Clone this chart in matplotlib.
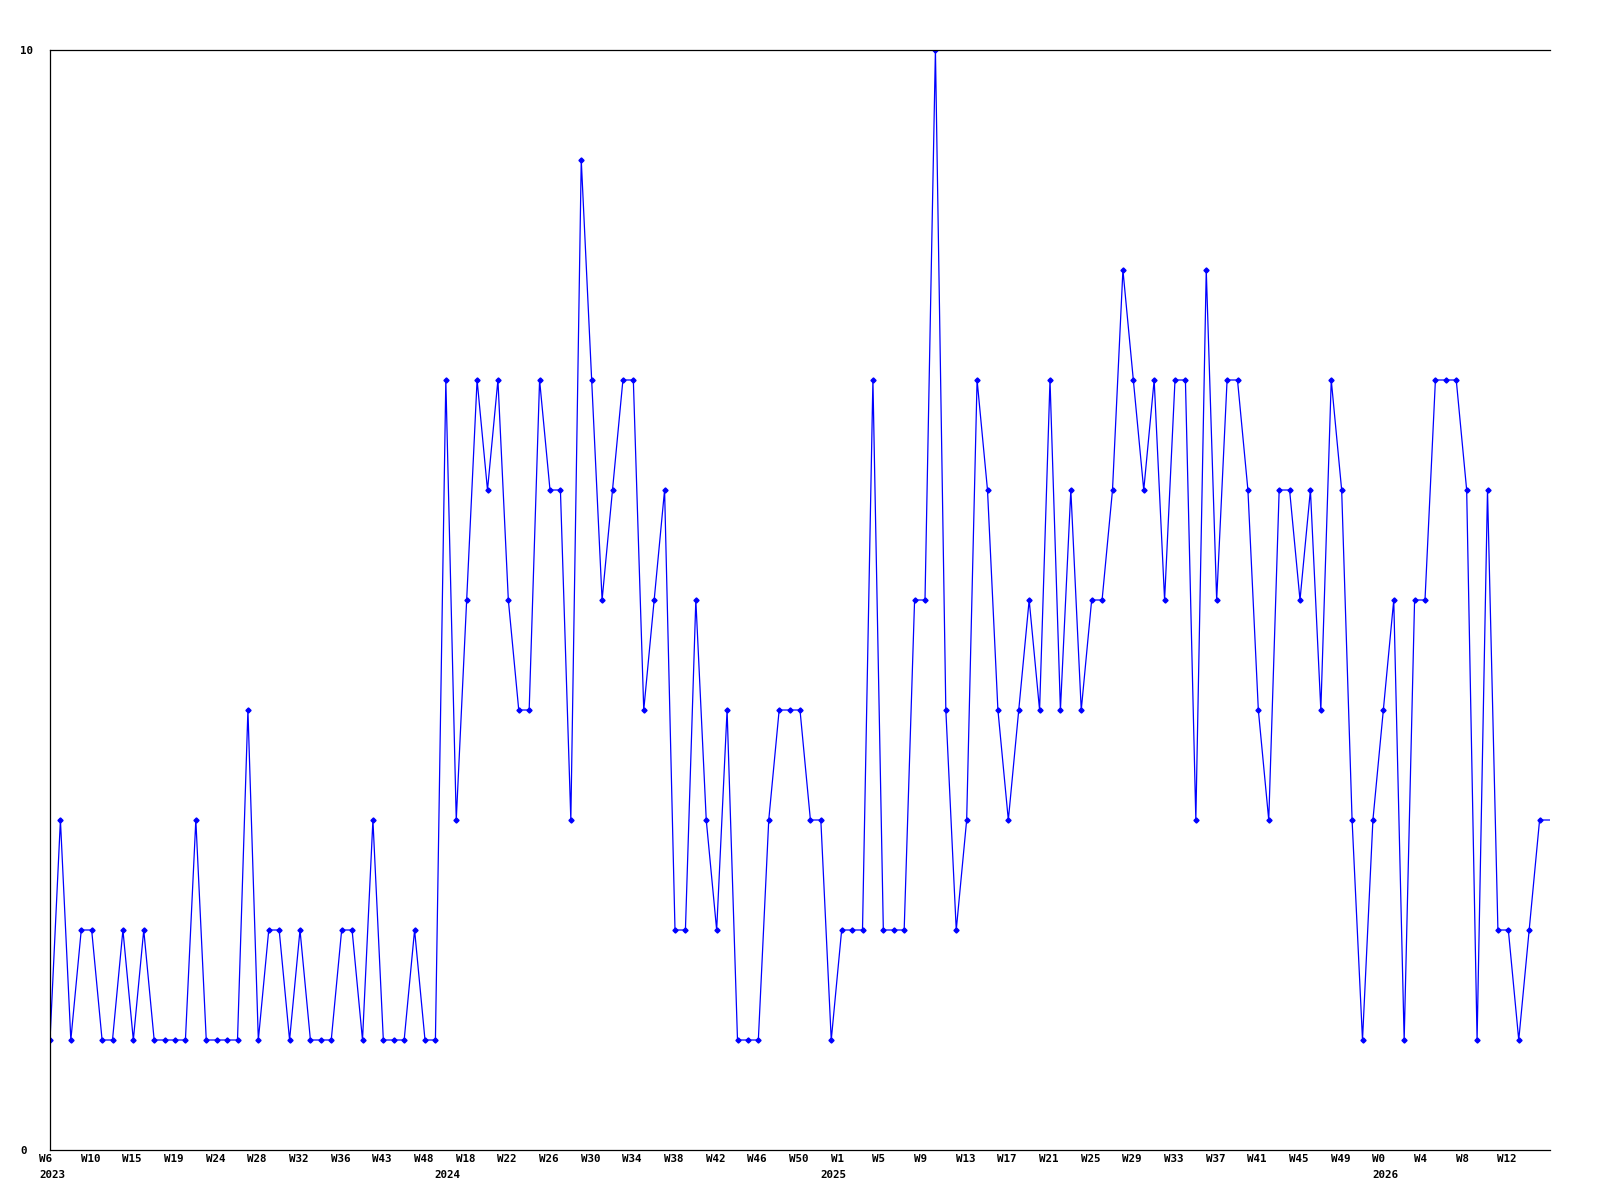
import numpy as np
import matplotlib
matplotlib.use("Agg")
import matplotlib.pyplot as plt
from matplotlib.transforms import ScaledTranslation

# Weekly counts (last value repeats to the right edge)
counts = [1, 3, 1, 2, 2, 1, 1, 2, 1, 2,
          1, 1, 1, 1, 3, 1, 1, 1, 1, 4,
          1, 2, 2, 1, 2, 1, 1, 1, 2, 2,
          1, 3, 1, 1, 1, 2, 1, 1, 7, 3,
          5, 7, 6, 7, 5, 4, 4, 7, 6, 6,
          3, 9, 7, 5, 6, 7, 7, 4, 5, 6,
          2, 2, 5, 3, 2, 4, 1, 1, 1, 3,
          4, 4, 4, 3, 3, 1, 2, 2, 2, 7,
          2, 2, 2, 5, 5, 10, 4, 2, 3, 7,
          6, 4, 3, 4, 5, 4, 7, 4, 6, 4,
          5, 5, 6, 8, 7, 6, 7, 5, 7, 7,
          3, 8, 5, 7, 7, 6, 4, 3, 6, 6,
          5, 6, 4, 7, 6, 3, 1, 3, 4, 5,
          1, 5, 5, 7, 7, 7, 6, 1, 6, 2,
          2, 1, 2, 3, 3]

week_labels = ["W6", "W10", "W15", "W19", "W24", "W28", "W32", "W36", "W43",
               "W48", "W18", "W22", "W26", "W30", "W34", "W38", "W42", "W46",
               "W50", "W1", "W5", "W9", "W13", "W17", "W21", "W25", "W29",
               "W33", "W37", "W41", "W45", "W49", "W0", "W4", "W8", "W12"]
label_step = 4

years = ["2023", "2024", "2025", "2026"]
year_pos = [0, 38, 75, 128]

font = {"family": "DejaVu Sans Mono", "weight": "bold", "size": 7.8}

fig = plt.figure(figsize=(16, 12), dpi=100)
ax = fig.add_axes([50 / 1600, 50 / 1200, 1500 / 1600, 1100 / 1200])

x = np.arange(len(counts))
ax.plot(x, counts, color="#0000ff", linewidth=0.9, marker="D", markersize=2.6,
        markevery=list(range(len(counts) - 1)))

ax.set_xlim(0, len(counts) - 1)
ax.set_ylim(0, 10)

ax.spines["right"].set_visible(False)
for s in ["left", "bottom", "top"]:
    ax.spines[s].set_linewidth(0.9)
    ax.spines[s].set_color("black")

ax.set_yticks([0, 10])
ax.set_yticklabels(["0", "10"], fontdict=font)
ax.tick_params(axis="y", length=0, pad=30 * 72 / 100)
for t in ax.get_yticklabels():
    t.set_horizontalalignment("left")

# labels are left-aligned a little before their tick
shift = ScaledTranslation(-11 / 100, 0, fig.dpi_scale_trans)

ticks = np.arange(len(week_labels)) * label_step
ax.set_xticks(ticks)
ax.set_xticklabels(week_labels, fontdict=font)
ax.tick_params(axis="x", length=0, pad=3)
for t in ax.get_xticklabels():
    t.set_horizontalalignment("left")
    t.set_transform(t.get_transform() + shift)

trans = ax.get_xaxis_transform() + shift
for yr, xp in zip(years, year_pos):
    ax.text(xp, -0.018, yr, transform=trans, ha="left", va="top", **font)

fig.savefig("out.png", dpi=100)
